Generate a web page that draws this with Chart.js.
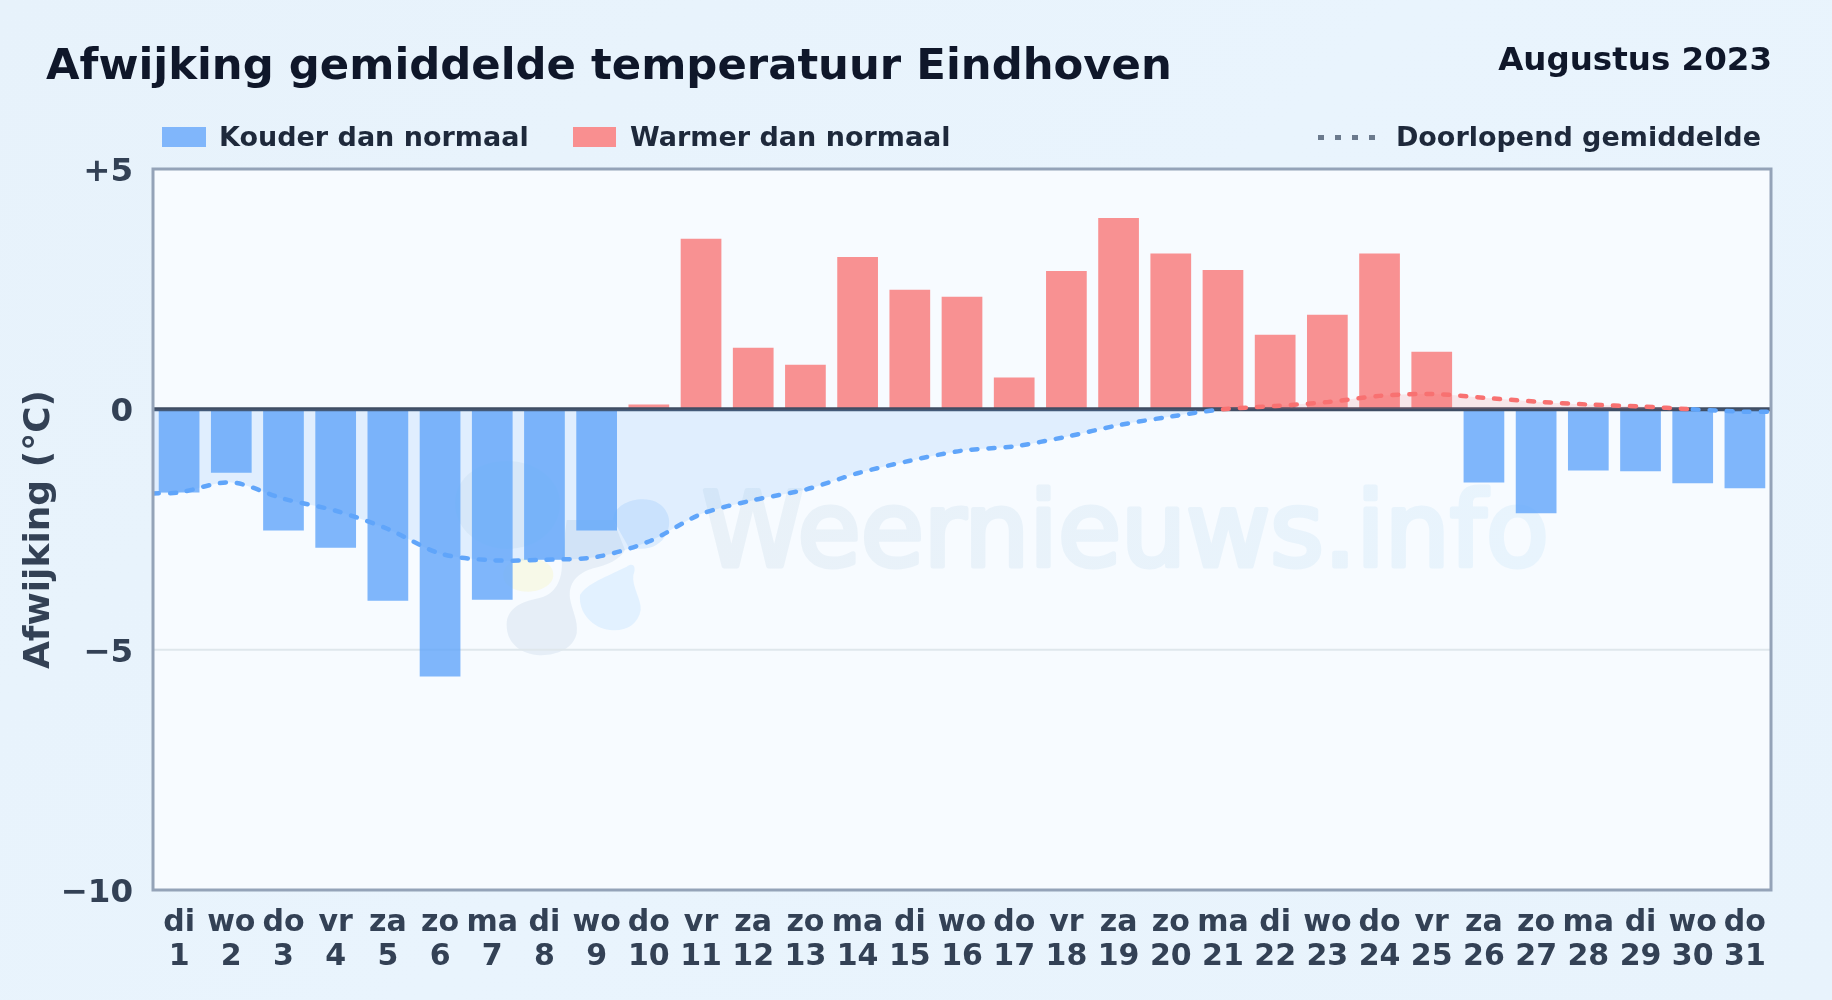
<!DOCTYPE html>
<html>
<head>
<meta charset="utf-8">
<script src="https://cdn.jsdelivr.net/npm/chart.js@4/dist/chart.umd.min.js"></script>
<style>
    html, body { margin: 0; padding: 0; width: 1832px; height: 1000px; overflow: hidden; }
    body { position: relative; background: linear-gradient(135deg, #e7f2fb, #e9f4fd 50%, #e8f3fc); font-family: "DejaVu Sans", sans-serif; font-weight: bold; }
    canvas { position: absolute; left: 0; top: 0; }
    .txt { position: absolute; white-space: nowrap; }
    #titel { left: 46px; top: 39px; font-size: 43.35px; color: #0f172a; }
    #maand { right: 60px; top: 40px; font-size: 32.5px; color: #0f172a; }
    .legenda { top: 121px; font-size: 27px; color: #1e293b; }
    .blok { position: absolute; top: 127px; height: 20px; }
    #stip { position: absolute; left: 1318px; top: 135px; width: 62px; height: 5px; background: repeating-linear-gradient(90deg, #6b7a8d 0 6px, transparent 6px 17px); }
</style>
</head>
<body>
<canvas id="chart" width="1832" height="1000"></canvas>
<div class="txt" id="titel">Afwijking gemiddelde temperatuur Eindhoven</div>
<div class="txt" id="maand">Augustus 2023</div>
<div class="blok" style="left:162px;width:44px;background:#80b6fb"></div>
<div class="txt legenda" style="left:219px">Kouder dan normaal</div>
<div class="blok" style="left:573px;width:43px;background:#f98f90"></div>
<div class="txt legenda" style="left:630px">Warmer dan normaal</div>
<div id="stip"></div>
<div class="txt legenda" style="right:71px">Doorlopend gemiddelde</div>
<script>
const weekdagen = ['di','wo','do','vr','za','zo','ma','di','wo','do','vr','za','zo','ma','di','wo','do','vr','za','zo','ma','di','wo','do','vr','za','zo','ma','di','wo','do'];
const dagen = [1,2,3,4,5,6,7,8,9,10,11,12,13,14,15,16,17,18,19,20,21,22,23,24,25,26,27,28,29,30,31];
const afwijking = [-1.73,-1.32,-2.52,-2.88,-3.98,-5.56,-3.96,-3.13,-2.52,0.1,3.55,1.28,0.93,3.17,2.49,2.34,0.66,2.88,3.98,3.24,2.9,1.55,1.97,3.24,1.2,-1.52,-2.16,-1.27,-1.29,-1.54,-1.64];
// doorlopend gemiddelde, met een extra punt op de linker- en rechterrand
const lijnDagen = [0.5,1,2,3,4,5,6,7,8,9,10,11,12,13,14,15,16,17,18,19,20,21,22,23,24,25,26,27,28,29,30,31,31.5];
const gemiddelde = [-1.75,-1.73,-1.52,-1.86,-2.11,-2.49,-3.0,-3.14,-3.13,-3.07,-2.75,-2.18,-1.89,-1.67,-1.33,-1.07,-0.86,-0.77,-0.57,-0.33,-0.15,0,0.07,0.15,0.28,0.32,0.24,0.16,0.1,0.06,0,-0.05,-0.05];
const yTicks = [5,0,-5,-10];

const BLAUW = 'rgba(96,165,250,0.8)';
const ROOD = 'rgba(248,113,113,0.77)';

function vulPad(ctx, kleur, pad) {
    ctx.fillStyle = kleur;
    ctx.fill(new Path2D(pad));
}

function tekenLogo(ctx) {
    ctx.save();
    ctx.translate(380, 420);
    ctx.scale(1 / 3, 1 / 3);
    // wolk links, zon, wolk met staart, wolk rechts, druppel
    vulPad(ctx, 'rgba(130,165,190,0.09)', 'M225,250 C225,170 300,123 380,123 C470,123 540,180 540,250 C540,330 470,387 380,387 C300,387 225,330 225,250 Z');
    vulPad(ctx, 'rgba(250,240,150,0.22)', 'M370,465 C370,430 410,415 445,415 C490,415 520,435 520,465 C520,495 480,515 445,515 C410,515 370,500 370,465 Z');
    vulPad(ctx, 'rgba(130,160,200,0.14)', 'M380,615 C380,565 425,545 475,535 C525,525 550,480 545,420 L560,300 L700,300 L735,390 C720,420 680,435 640,445 C590,460 565,490 570,535 C575,570 595,600 590,640 C580,690 520,710 470,705 C415,698 380,665 380,615 Z');
    vulPad(ctx, 'rgba(147,197,253,0.26)', 'M700,300 C700,250 770,230 810,240 C860,250 880,300 860,340 C840,385 790,395 745,380 Z');
    vulPad(ctx, 'rgba(147,205,253,0.20)', 'M600,525 C620,490 680,470 740,440 C760,425 770,440 760,465 C755,500 785,540 782,570 C775,615 735,635 690,630 C640,625 595,580 600,525 Z');
    ctx.restore();
}

function plotAchtergrond(ctx, area) {
    ctx.save();
    ctx.fillStyle = '#f7fbff';
    ctx.fillRect(area.left, area.top, area.width, area.height);
    ctx.beginPath();
    ctx.rect(area.left, area.top, area.width, area.height);
    ctx.clip();
    // watermerk
    const verloop = ctx.createLinearGradient(700, 0, 1550, 0);
    verloop.addColorStop(0, '#e9f1f8');
    verloop.addColorStop(1, '#e8f4fd');
    ctx.fillStyle = verloop;
    ctx.strokeStyle = verloop;
    ctx.lineWidth = 5;
    ctx.lineJoin = 'round';
    ctx.font = '102.7px "DejaVu Sans"';
    ctx.textBaseline = 'alphabetic';
    ctx.fillText('Weernieuws.info', 702, 566);
    ctx.strokeText('Weernieuws.info', 702, 566);
    tekenLogo(ctx);
    ctx.restore();
}

const kaderPlugin = {
    id: 'kader',
    beforeDatasetsDraw(chart) {
        plotAchtergrond(chart.ctx, chart.chartArea);
        // rasterlijn -5 opnieuw, want de achtergrond ligt eroverheen
        const y5 = chart.scales.y.getPixelForValue(-5);
        chart.ctx.save();
        chart.ctx.strokeStyle = '#dfe7ec';
        chart.ctx.lineWidth = 2;
        chart.ctx.beginPath();
        chart.ctx.moveTo(chart.chartArea.left, y5);
        chart.ctx.lineTo(chart.chartArea.right, y5);
        chart.ctx.stroke();
        chart.ctx.restore();
    },
    afterDatasetDraw(chart, args) {
        if (args.index !== 0) return;
        // nullijn ligt boven de staven maar onder de lijn
        const ctx = chart.ctx, a = chart.chartArea;
        const y0 = chart.scales.y.getPixelForValue(0);
        ctx.save();
        ctx.strokeStyle = '#3f4d63';
        ctx.lineWidth = 4;
        ctx.beginPath();
        ctx.moveTo(a.left, y0);
        ctx.lineTo(a.right, y0);
        ctx.stroke();
        ctx.restore();
    },
    afterDraw(chart) {
        const ctx = chart.ctx, a = chart.chartArea;
        ctx.save();
        ctx.strokeStyle = '#94a3b8';
        ctx.lineWidth = 3;
        ctx.strokeRect(a.left, a.top, a.width, a.height);
        ctx.restore();
    }
};

new Chart(document.getElementById('chart').getContext('2d'), {
    data: {
        labels: weekdagen.map((d, i) => [d, String(dagen[i])]),
        datasets: [
            {
                type: 'bar',
                data: afwijking,
                order: 2,
                grouped: false,
                backgroundColor: afwijking.map(v => v < 0 ? BLAUW : ROOD),
                borderWidth: 0,
                categoryPercentage: 1,
                barPercentage: 0.78
            },
            {
                type: 'line',
                xAxisID: 'xLijn',
                order: 1,
                data: lijnDagen.map((d, i) => ({ x: d, y: gemiddelde[i] })),
                borderWidth: 4.5,
                borderDash: [6, 11],
                borderCapStyle: 'round',
                borderColor: '#60a5fa',
                segment: {
                    borderColor: c => (c.p0.parsed.y + c.p1.parsed.y) / 2 > 0.002 ? '#f87171' : '#60a5fa'
                },
                pointRadius: 0,
                tension: 0.3,
                fill: { target: { value: 0 }, above: 'rgba(248,113,113,0.15)', below: 'rgba(96,165,250,0.15)' }
            }
        ]
    },
    options: {
        responsive: false,
        animation: false,
        events: [],
        layout: { padding: { left: 0, top: 169, right: 61, bottom: 0 } },
        plugins: { legend: { display: false }, tooltip: { enabled: false } },
        scales: {
            x: {
                grid: { display: false },
                border: { display: false },
                afterFit(scale) { scale.height = 110; },
                ticks: {
                    autoSkip: false,
                    maxRotation: 0,
                    padding: 8,
                    color: '#334155',
                    font: { family: '"DejaVu Sans"', size: 30, weight: 'bold', lineHeight: 1.13 }
                }
            },
            xLijn: { type: 'linear', min: 0.5, max: 31.5, display: false },
            y: {
                min: -10,
                max: 5,
                afterFit(scale) { scale.width = 153; },
                afterBuildTicks(scale) { scale.ticks = yTicks.map(v => ({ value: v })); },
                grid: { display: false },
                border: { display: false },
                title: {
                    display: true,
                    text: 'Afwijking (°C)',
                    color: '#334155',
                    font: { family: '"DejaVu Sans"', size: 36, weight: 'bold' },
                    padding: { top: 18, bottom: 0 }
                },
                ticks: {
                    padding: 12,
                    color: '#334155',
                    // lege eerste regel met kleine regelafstand zet het label iets lager
                    font: { family: '"DejaVu Sans"', size: 32.5, weight: 'bold', lineHeight: '7px' },
                    callback: v => ['', v > 0 ? '+' + v : v < 0 ? '\u2212' + Math.abs(v) : '0']
                }
            }
        }
    },
    plugins: [kaderPlugin]
});
</script>
</body>
</html>
